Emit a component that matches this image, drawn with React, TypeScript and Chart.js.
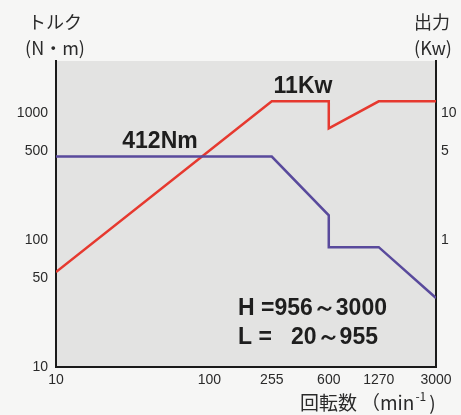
import React, { useEffect, useRef } from "react";
import { Chart, registerables } from "chart.js";

Chart.register(...registerables);

// Torque curve (N·m, left axis) vs speed (min^-1)
const torqueRpm = [10, 255, 600, 600, 1270, 3000];
const torqueNm = [455, 455, 157, 88, 88, 35];

// Output curve (kW, right axis) vs speed
const powerRpm = [10, 255, 600, 600, 1270, 3000];
const powerKw = [0.56, 12.4, 12.4, 7.6, 12.4, 12.4];

const xTicks = [10, 100, 255, 600, 1270, 3000];
const leftTicks = [10, 50, 100, 500, 1000];
const rightTicks = [1, 5, 10];

const FONT = "'Liberation Sans', Arial, sans-serif";
const JP = "'Noto Sans CJK JP', sans-serif";

export default function App() {
  const ref = useRef<HTMLCanvasElement | null>(null);

  useEffect(() => {
    const canvas = ref.current;
    if (!canvas) return;

    const decor = {
      id: "decor",
      beforeDraw(chart: any) {
        const { ctx, chartArea: a, width, height } = chart;
        ctx.save();
        ctx.fillStyle = "#f6f6f5";
        ctx.fillRect(0, 0, width, height);
        ctx.fillStyle = "#e3e3e2";
        ctx.fillRect(a.left, a.top, a.right - a.left, a.bottom - a.top);
        ctx.restore();
      },
      afterDraw(chart: any) {
        const { ctx } = chart;
        ctx.save();
        ctx.fillStyle = "#1e1e1e";
        ctx.textBaseline = "middle";
        // annotations
        ctx.font = `bold 23px ${FONT}`;
        ctx.textAlign = "center";
        ctx.fillText("412Nm", 160, 142);
        ctx.fillText("11Kw", 303, 87);
        ctx.textAlign = "left";
        ctx.fillText("H =956\uFF5E3000", 238, 309);
        ctx.fillText("L =   20\uFF5E955", 238, 338);
        // axis titles
        ctx.fillStyle = "#2a2a2a";
        ctx.font = `18px ${JP}`;
        ctx.textAlign = "center";
        ctx.fillText("トルク", 55, 22);
        ctx.fillText("(N・m)", 55, 48);
        ctx.fillText("出力", 432, 22);
        ctx.fillText("(Kw)", 433, 48);
        // bottom title
        ctx.textAlign = "left";
        ctx.font = `19px ${JP}`;
        const sx = 300;
        const t0 = "回転数";
        ctx.fillText(t0, sx, 403);
        const w0 = ctx.measureText(t0).width;
        const t1 = "（min";
        ctx.fillText(t1, sx + w0 + 4, 403);
        const w1 = ctx.measureText(t1).width;
        ctx.font = `12px ${JP}`;
        ctx.fillText("-1", sx + w0 + 4 + w1 + 1, 396);
        const w2 = ctx.measureText("-1").width;
        ctx.font = `19px ${JP}`;
        ctx.fillText(")", sx + w0 + 4 + w1 + w2 + 4, 403);
        ctx.restore();
      },
    };

    const chart = new Chart(canvas, {
      type: "line",
      data: {
        datasets: [
          {
            label: "torque",
            data: torqueRpm.map((r, i) => ({ x: r, y: torqueNm[i] })),
            borderColor: "#594a9c",
            borderWidth: 2.5,
            pointRadius: 0,
            yAxisID: "y",
            borderJoinStyle: "miter",
          },
          {
            label: "output",
            data: powerRpm.map((r, i) => ({ x: r, y: powerKw[i] })),
            borderColor: "#e6392f",
            borderWidth: 2.5,
            pointRadius: 0,
            yAxisID: "y1",
            borderJoinStyle: "miter",
          },
        ],
      },
      options: {
        responsive: false,
        animation: false,
        events: [],
        layout: { padding: { top: 61, left: 0, right: 0, bottom: 0 } },
        plugins: { legend: { display: false }, tooltip: { enabled: false } },
        scales: {
          x: {
            type: "logarithmic",
            min: 10,
            max: 3000,
            grid: { display: false, drawTicks: false },
            border: { display: true, color: "#1a1a1a", width: 2 },
            afterBuildTicks: (s: any) => {
              s.ticks = xTicks.map((v) => ({ value: v }));
            },
            afterFit: (s: any) => {
              s.height = 48;
            },
            ticks: {
              autoSkip: false,
              maxRotation: 0,
              padding: 5,
              color: "#2a2a2a",
              font: { family: FONT, size: 14 },
              callback: (v: any) => String(v),
            },
          },
          y: {
            type: "logarithmic",
            position: "left",
            min: 10,
            max: 2580,
            grid: { display: false, drawTicks: false },
            border: { display: true, color: "#1a1a1a", width: 2 },
            afterBuildTicks: (s: any) => {
              s.ticks = leftTicks.map((v) => ({ value: v }));
            },
            afterFit: (s: any) => {
              s.width = 56;
            },
            ticks: {
              autoSkip: false,
              padding: 8,
              color: "#2a2a2a",
              font: { family: FONT, size: 14 },
              callback: (v: any) => String(v),
            },
          },
          y1: {
            type: "logarithmic",
            position: "right",
            min: 0.1,
            max: 25.8,
            grid: { display: false, drawTicks: false },
            border: { display: true, color: "#1a1a1a", width: 2 },
            afterBuildTicks: (s: any) => {
              s.ticks = rightTicks.map((v) => ({ value: v }));
            },
            afterFit: (s: any) => {
              s.width = 25;
            },
            ticks: {
              autoSkip: false,
              padding: 5,
              color: "#2a2a2a",
              font: { family: FONT, size: 14 },
              callback: (v: any) => String(v),
            },
          },
        },
      },
      plugins: [decor],
    } as any);

    return () => chart.destroy();
  }, []);

  return (
    <div style={{ position: "fixed", left: 0, top: 0, width: 461, height: 415 }}>
      <canvas ref={ref} width={461} height={415} style={{ display: "block" }} />
    </div>
  );
}
